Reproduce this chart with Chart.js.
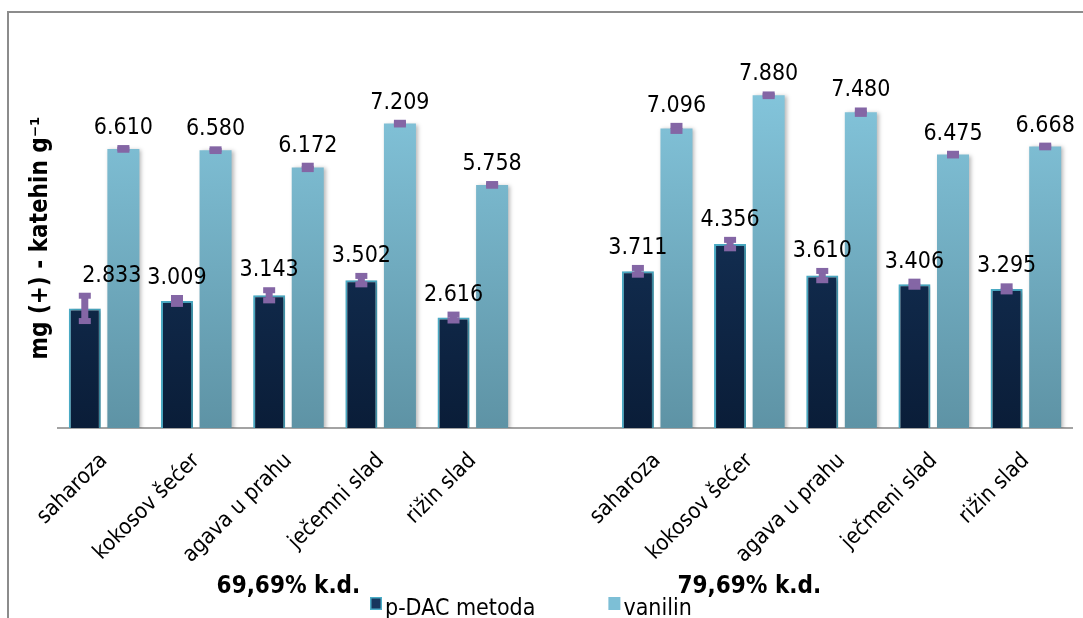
<!DOCTYPE html>
<html>
<head>
<meta charset="utf-8">
<script src="https://cdn.jsdelivr.net/npm/chart.js@4.4.1/dist/chart.umd.min.js"></script>
<style>
  html, body { margin: 0; padding: 0; background: #fff; overflow: hidden; }
  #wrap { position: relative; width: 1083px; height: 618px; overflow: hidden; }
  #frame { position: absolute; left: 7px; top: 11px; width: 1200px; height: 800px; border: 2px solid #8c8c8c; }
  #chart { position: absolute; left: 0; top: 0; }
</style>
</head>
<body>
<div id="wrap">
  <div id="frame"></div>
  <canvas id="chart" width="1083" height="618"></canvas>
</div>
<script>
// categories: two groups of five, empty slot between them
const categories = ['saharoza', 'kokosov šećer', 'agava u prahu', 'ječemni slad', 'rižin slad', '',
                    'saharoza', 'kokosov šećer', 'agava u prahu', 'ječmeni slad', 'rižin slad'];
const groupLabels = ['69,69% k.d.', '79,69% k.d.'];
const seriesNames = ['p-DAC metoda', 'vanilin'];

const pdacValues = [2.833, 3.009, 3.143, 3.502, 2.616, null, 3.711, 4.356, 3.610, 3.406, 3.295];
const pdacErrors = [0.30, 0.07, 0.12, 0.10, 0.07, null, 0.08, 0.10, 0.11, 0.06, 0.06];
const vanilinValues = [6.610, 6.580, 6.172, 7.209, 5.758, null, 7.096, 7.880, 7.480, 6.475, 6.668];
const vanilinErrors = [0.02, 0.02, 0.04, 0.02, 0.02, null, 0.06, 0.02, 0.04, 0.02, 0.02];

const yTitle = 'mg (+) - katehin g⁻¹';

const FONT = "'DejaVu Sans Condensed', 'DejaVu Sans', sans-serif";
const PURPLE = '#8466a5';

function gradientFill(top, bottom, fallback) {
    return (context) => {
        const area = context.chart.chartArea;
        if (!area) return fallback;
        const g = context.chart.ctx.createLinearGradient(0, area.top, 0, area.bottom);
        g.addColorStop(0, top);
        g.addColorStop(1, bottom);
        return g;
    };
}

const errors = [pdacErrors, vanilinErrors];

const barShadow = {
    id: 'barShadow',
    beforeDatasetDraw(chart) {
        const ctx = chart.ctx;
        ctx.save();
        ctx.shadowColor = 'rgba(0,0,0,0.28)';
        ctx.shadowBlur = 4;
        ctx.shadowOffsetX = 2;
        ctx.shadowOffsetY = 1;
    },
    afterDatasetDraw(chart) {
        chart.ctx.restore();
    }
};

const errorBarsAndLabels = {
    id: 'errorBarsAndLabels',
    afterDatasetsDraw(chart, args, opts) {
        const ctx = chart.ctx;
        const y = chart.scales.y;
        chart.data.datasets.forEach((ds, i) => {
            const meta = chart.getDatasetMeta(i);
            meta.data.forEach((bar, j) => {
                const v = ds.data[j];
                if (v == null) return;
                const e = errors[i][j];
                const yTop = y.getPixelForValue(v + e);
                const yBot = y.getPixelForValue(v - e);
                ctx.save();
                ctx.fillStyle = PURPLE;
                ctx.fillRect(bar.x - 3.5, yTop, 7, yBot - yTop);
                ctx.fillRect(bar.x - 6, yTop - 3, 12, 6);
                ctx.fillRect(bar.x - 6, yBot - 3, 12, 6);
                ctx.restore();

                const shift = opts.labelShift[i + '-' + j] || 0;
                ctx.save();
                ctx.font = '23px ' + FONT;
                ctx.fillStyle = '#000';
                ctx.textAlign = 'center';
                ctx.textBaseline = 'alphabetic';
                ctx.fillText(v.toFixed(3), bar.x + shift, yTop - 14);
                ctx.restore();
            });
        });
    }
};

const groupsAndLegend = {
    id: 'groupsAndLegend',
    afterDraw(chart) {
        const ctx = chart.ctx;
        const x = chart.scales.x;
        ctx.save();
        ctx.font = 'bold 24px ' + FONT;
        ctx.fillStyle = '#000';
        ctx.textAlign = 'center';
        ctx.fillText(groupLabels[0], x.getPixelForValue(2), 593);
        ctx.fillText(groupLabels[1], x.getPixelForValue(7), 593);

        // legend (bottom, partly clipped like the original)
        ctx.font = '23px ' + FONT;
        ctx.textAlign = 'left';
        let lx = 370;
        const boxes = [
            { fill: '#17375e', stroke: '#4bacc6' },
            { fill: '#7dbfd6', stroke: null }
        ];
        seriesNames.forEach((name, i) => {
            ctx.fillStyle = boxes[i].fill;
            ctx.fillRect(lx, 597, 12, 13);
            if (boxes[i].stroke) {
                ctx.strokeStyle = boxes[i].stroke;
                ctx.lineWidth = 1.5;
                ctx.strokeRect(lx + 0.75, 597.75, 10.5, 11.5);
            }
            ctx.fillStyle = '#000';
            ctx.fillText(name, lx + 15, 615);
            lx += 15 + ctx.measureText(name).width + 73;
        });
        ctx.restore();
    }
};

new Chart(document.getElementById('chart'), {
    type: 'bar',
    data: {
        labels: categories,
        datasets: [{
            label: seriesNames[0],
            data: pdacValues,
            backgroundColor: gradientFill('#1a3d68', '#0a1d38', '#123058'),
            borderColor: '#4bacc6',
            borderWidth: 2,
            categoryPercentage: 0.837,
            barPercentage: 0.83
        }, {
            label: seriesNames[1],
            data: vanilinValues,
            backgroundColor: gradientFill('#88cbe2', '#5e93a5', '#7dbfd6'),
            borderWidth: 0,
            categoryPercentage: 0.837,
            barPercentage: 0.83
        }]
    },
    options: {
        responsive: false,
        animation: false,
        layout: { padding: { top: 48, right: 11, bottom: 0, left: 0 } },
        plugins: {
            legend: { display: false },
            tooltip: { enabled: false },
            errorBarsAndLabels: { labelShift: { '0-0': 27 } }
        },
        scales: {
            x: {
                grid: { display: false },
                border: { color: '#a3a3a3', width: 2 },
                ticks: {
                    autoSkip: false,
                    minRotation: 45,
                    maxRotation: 45,
                    padding: 12,
                    color: '#000',
                    font: { family: FONT, size: 22 }
                },
                afterFit(scale) { scale.height = 190; }
            },
            y: {
                min: 0,
                max: 9,
                grid: { display: false },
                border: { display: false },
                ticks: { display: false },
                title: {
                    display: true,
                    text: yTitle,
                    color: '#000',
                    padding: { top: 26, bottom: 0 },
                    font: { family: FONT, size: 24, weight: 'bold' }
                },
                afterFit(scale) { scale.width = 58; }
            }
        }
    },
    plugins: [barShadow, errorBarsAndLabels, groupsAndLegend]
});
</script>
</body>
</html>
